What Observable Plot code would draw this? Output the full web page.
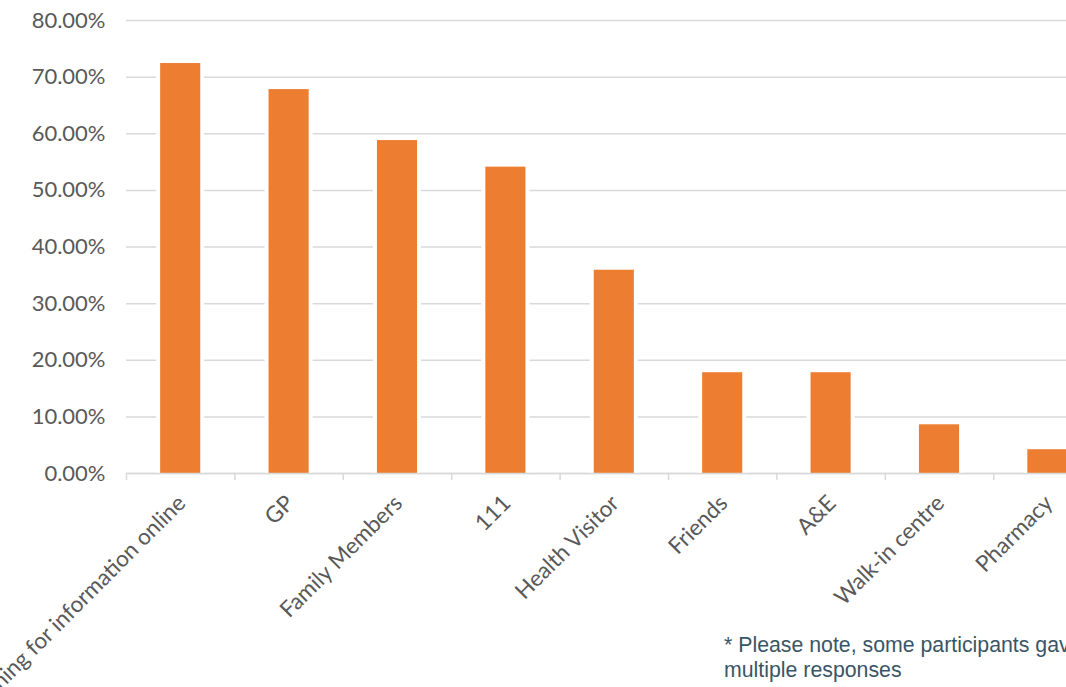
<!DOCTYPE html>
<html><head><meta charset="utf-8">
<script src="https://cdn.jsdelivr.net/npm/d3@7"></script>
<script src="https://cdn.jsdelivr.net/npm/@observablehq/plot@0.6"></script>
<style>
html,body{margin:0;padding:0;overflow:hidden;background:#fff;width:1066px;height:687px;}
#wrap{position:relative;width:1066px;height:687px;overflow:hidden}
#wrap svg{position:absolute;left:0;top:0}
#note{position:absolute;left:724px;top:633px;font-family:"Liberation Sans",Arial,sans-serif;font-size:21.3px;line-height:25px;color:#3a5565;white-space:nowrap}
</style></head><body><div id="wrap"><div id="note">* Please note, some participants gave<br>multiple responses</div></div>
<script>
const categories = ["Searching for information online", "GP", "Family Members", "111", "Health Visitor", "Friends", "A&E", "Walk-in centre", "Pharmacy"];
const values = [0.724, 0.678, 0.588, 0.541, 0.359, 0.178, 0.178, 0.086, 0.042];
const yTicks = [0, 0.1, 0.2, 0.3, 0.4, 0.5, 0.6, 0.7, 0.8];
const data = categories.map((c, i) => ({category: c, value: values[i]}));

const chart = Plot.plot({
  width: 1066, height: 687,
  marginTop: 20, marginBottom: 214, marginLeft: 126, marginRight: 0,
  style: {fontFamily: "Lato, 'Open Sans', sans-serif", fontSize: "22px", color: "#595959", background: "transparent", overflow: "hidden"},
  x: {domain: categories, range: [126, 1101.6], paddingInner: 0.63, paddingOuter: 0.315, round: false, label: null},
  y: {domain: [0, 0.8], label: null},
  marks: [
    Plot.gridY(yTicks, {stroke: "#d9d9d9", strokeOpacity: 1, strokeWidth: 1.5}),
    Plot.barY(data, {x: "category", y: "value", fill: "white", insetLeft: -4, insetRight: -4}),
    Plot.barY(data, {x: "category", y: "value", fill: "#ED7D31"}),
    Plot.ruleY([0], {stroke: "#d9d9d9", strokeWidth: 1.5}),
    Plot.axisY(yTicks, {tickFormat: ".2%", tickSize: 0, tickPadding: 21, fill: "#595959"}),
    Plot.axisX({tickRotate: -45, tickSize: 0, tickPadding: 26, dx: 1, fill: "#595959", fontSize: 22.5}),
    Plot.axisX({tickFormat: () => "", tickSize: 7, dx: -54.2, stroke: "#d9d9d9", strokeOpacity: 1, strokeWidth: 1.5})
  ]
});
document.getElementById("wrap").prepend(chart);
</script>
</body></html>
